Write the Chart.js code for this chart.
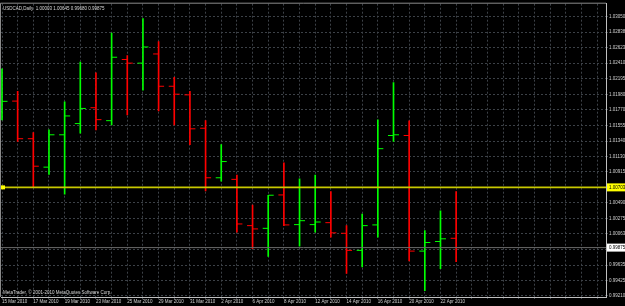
<!DOCTYPE html>
<html>
<head>
<meta charset="utf-8">
<script src="https://cdn.jsdelivr.net/npm/chart.js@4.4.1/dist/chart.umd.min.js"></script>
<style>
  html, body { margin: 0; padding: 0; background: #000; }
  canvas { display: block; }
</style>
</head>
<body>
<canvas id="zeChart" width="625" height="306"></canvas>
<script>
// USDCAD daily bars, 15 Mar - 23 Apr 2010
var dates = ["15 Mar 2010", "16 Mar 2010", "17 Mar 2010", "18 Mar 2010", "19 Mar 2010",
  "22 Mar 2010", "23 Mar 2010", "24 Mar 2010", "25 Mar 2010", "26 Mar 2010",
  "29 Mar 2010", "30 Mar 2010", "31 Mar 2010", "1 Apr 2010", "2 Apr 2010",
  "5 Apr 2010", "6 Apr 2010", "7 Apr 2010", "8 Apr 2010", "9 Apr 2010",
  "12 Apr 2010", "13 Apr 2010", "14 Apr 2010", "15 Apr 2010", "16 Apr 2010",
  "19 Apr 2010", "20 Apr 2010", "21 Apr 2010", "22 Apr 2010", "23 Apr 2010"];

var opens = [1.01743, 1.01889, 1.01372, 1.00981, 1.01426, 1.01580, 1.01798, 1.01620, 1.02461, 1.02411,
  1.02537, 1.02093, 1.01975, 1.01516, 1.00835, 1.00813, 1.00177, 1.00140, 1.00599, 1.00191,
  1.00191, 1.00218, 1.00072, 0.99837, 1.00187, 1.01416, 1.01416, 0.99827, 0.99959, 1.00003];
var highs = [1.02333, 1.02025, 1.01457, 1.01494, 1.01880, 1.02424, 1.02279, 1.02823, 1.02516, 1.03024,
  1.02706, 1.02216, 1.02025, 1.01620, 1.01290, 1.00872, 1.00459, 1.00595, 1.01039, 1.00821,
  1.00872, 1.00644, 1.00177, 1.00336, 1.01630, 1.02142, 1.01617, 1.00109, 1.00381, 1.00645];
var lows = [1.01630, 1.01335, 1.00708, 1.00881, 1.00609, 1.01448, 1.01494, 1.01562, 1.01698, 1.02039,
  1.01753, 1.01562, 1.01290, 1.00654, 1.00790, 1.00086, 0.99860, 0.99755, 1.00177, 0.99895,
  1.00086, 1.00018, 0.99519, 0.99609, 1.00018, 1.01335, 0.99691, 0.99282, 0.99587, 0.99680];
var closes = [1.01886, 1.01372, 1.00994, 1.01426, 1.01685, 1.01788, 1.01634, 1.02492, 1.02411, 1.02633,
  1.02093, 1.01984, 1.01508, 1.00835, 1.01058, 1.00200, 1.00132, 1.00595, 1.00187, 1.00245,
  1.00227, 1.00078, 0.99837, 1.00177, 1.01235, 1.01426, 0.99827, 0.99945, 0.99996, 0.99875];

// price scale labels (right side)
var yTickLabels = ["0.99210", "0.99425", "0.99635", "0.99850", "1.00063", "1.00275", "1.00490",
  "1.00703", "1.00915", "1.01130", "1.01340", "1.01555", "1.01770", "1.01980", "1.02195",
  "1.02410", "1.02623", "1.02838", "1.03050"];

var levelLine = 1.00703;   // yellow horizontal line
var bidPrice = 0.99875;    // current price
var shiftBars = 9;         // empty space right of last bar
var title = "USDCAD,Daily  1.00003 1.00645 0.99680 0.99875";
var copyright = "MetaTrader, \u00a9 2001-2010 MetaQuotes Software Corp.";

var UP = "#00ff00", DOWN = "#ff0000";
var FONT = "'Liberation Sans', Arial, sans-serif";

function barColor(i) {
  return closes[i] >= opens[i] ? UP : DOWN;
}

var yTicks = yTickLabels.map(Number);
var xTicks = Array.from({length: dates.length + shiftBars}, (_, i) => i);

// black background
const bg = {
  id: "bg",
  beforeDraw(chart) {
    const c = chart.ctx;
    c.save();
    c.fillStyle = "#000";
    c.fillRect(0, 0, chart.width, chart.height);
    c.restore();
  }
};

// open / close ticks of each bar
const ohlcTicks = {
  id: "ohlcTicks",
  afterDatasetsDraw(chart) {
    const {ctx, chartArea: a, scales: {x, y}} = chart;
    ctx.save();
    ctx.beginPath();
    ctx.rect(a.left, a.top, a.right - a.left, a.bottom - a.top);
    ctx.clip();
    ctx.lineWidth = 1;
    opens.forEach((o, i) => {
      const px = x.getPixelForValue(i);
      const yo = y.getPixelForValue(o);
      const yc = y.getPixelForValue(closes[i]);
      ctx.strokeStyle = barColor(i);
      ctx.beginPath();
      ctx.moveTo(px - 5.5, yo);
      ctx.lineTo(px, yo);
      ctx.moveTo(px, yc);
      ctx.lineTo(px + 5.5, yc);
      ctx.stroke();
    });
    ctx.restore();
  }
};

// frame, level lines, price boxes, texts
const extras = {
  id: "extras",
  afterDraw(chart) {
    const {ctx, chartArea: a, scales: {y}} = chart;
    ctx.save();
    ctx.strokeStyle = "#8a8a8a";
    ctx.lineWidth = 1;
    ctx.beginPath();
    ctx.moveTo(a.left - 0.5, a.bottom);
    ctx.lineTo(a.left - 0.5, a.top - 0.5);
    ctx.lineTo(a.right, a.top - 0.5);
    ctx.stroke();

    // bid line
    const yb = y.getPixelForValue(bidPrice);
    ctx.strokeStyle = "#6a6a6a";
    ctx.beginPath();
    ctx.moveTo(a.left, yb);
    ctx.lineTo(a.right, yb);
    ctx.stroke();

    // yellow level
    const yl = y.getPixelForValue(levelLine);
    ctx.strokeStyle = "#c8c800";
    ctx.lineWidth = 1.6;
    ctx.beginPath();
    ctx.moveTo(a.left, yl);
    ctx.lineTo(a.right, yl);
    ctx.stroke();
    ctx.fillStyle = "#ffff00";
    ctx.fillRect(a.left, yl - 2, 4, 4);

    ctx.font = "4.5px " + FONT;
    ctx.textBaseline = "middle";
    ctx.textAlign = "left";
    ctx.fillStyle = "#ffff00";
    ctx.fillRect(a.right + 1, yl - 4, chart.width - a.right - 1, 8);
    ctx.fillStyle = "#000";
    ctx.fillText(levelLine.toFixed(5), a.right + 3, yl);
    ctx.fillStyle = "#ffffff";
    ctx.fillRect(a.right + 1, yb - 4, chart.width - a.right - 1, 8);
    ctx.fillStyle = "#000";
    ctx.fillText(bidPrice.toFixed(5), a.right + 3, yb);

    ctx.fillStyle = "#d8d8d8";
    ctx.fillText(title, a.left + 2, a.top + 5);
    ctx.fillText(copyright, a.left + 2, a.bottom - 4);
    ctx.restore();
  }
};

new Chart(document.getElementById("zeChart"), {
  type: "bar",
  data: {
    datasets: [{
      data: dates.map((d, i) => ({x: i, y: [lows[i], highs[i]]})),
      backgroundColor: dates.map((d, i) => barColor(i)),
      borderWidth: 0,
      barThickness: 1
    }]
  },
  options: {
    responsive: false,
    animation: false,
    devicePixelRatio: 1,
    layout: {padding: {left: 1, top: 1, right: 0, bottom: 0}},
    plugins: {
      legend: {display: false},
      tooltip: {enabled: false},
      title: {display: false}
    },
    scales: {
      x: {
        type: "linear",
        offset: false,
        min: -0.064,
        max: 38.57,
        afterBuildTicks: s => { s.ticks = xTicks.map(v => ({value: v})); },
        afterFit: s => { s.height = 9; },
        grid: {color: "#3c4147", tickLength: 2, drawTicks: true, offset: false},
        border: {display: true, color: "#c0c0c0", width: 1, dash: [2, 2]},
        ticks: {
          autoSkip: false,
          maxRotation: 0,
          align: "start",
          padding: 0,
          color: "#d0d0d0",
          font: {size: 4.5, family: FONT},
          callback: v => (v % 2 === 0 && v < dates.length - 1) ? dates[v] : ""
        }
      },
      y: {
        position: "right",
        min: 0.99196,
        max: 1.03228,
        afterBuildTicks: s => { s.ticks = yTicks.map(v => ({value: v})); },
        afterFit: s => { s.width = 19; },
        grid: {color: "#3c4147", tickLength: 2},
        border: {display: true, color: "#c0c0c0", width: 1, dash: [2, 2]},
        ticks: {
          autoSkip: false,
          padding: 1,
          color: "#d0d0d0",
          font: {size: 4.5, family: FONT},
          callback: (v, i) => yTickLabels[i]
        }
      }
    }
  },
  plugins: [bg, ohlcTicks, extras]
});
</script>
</body>
</html>
